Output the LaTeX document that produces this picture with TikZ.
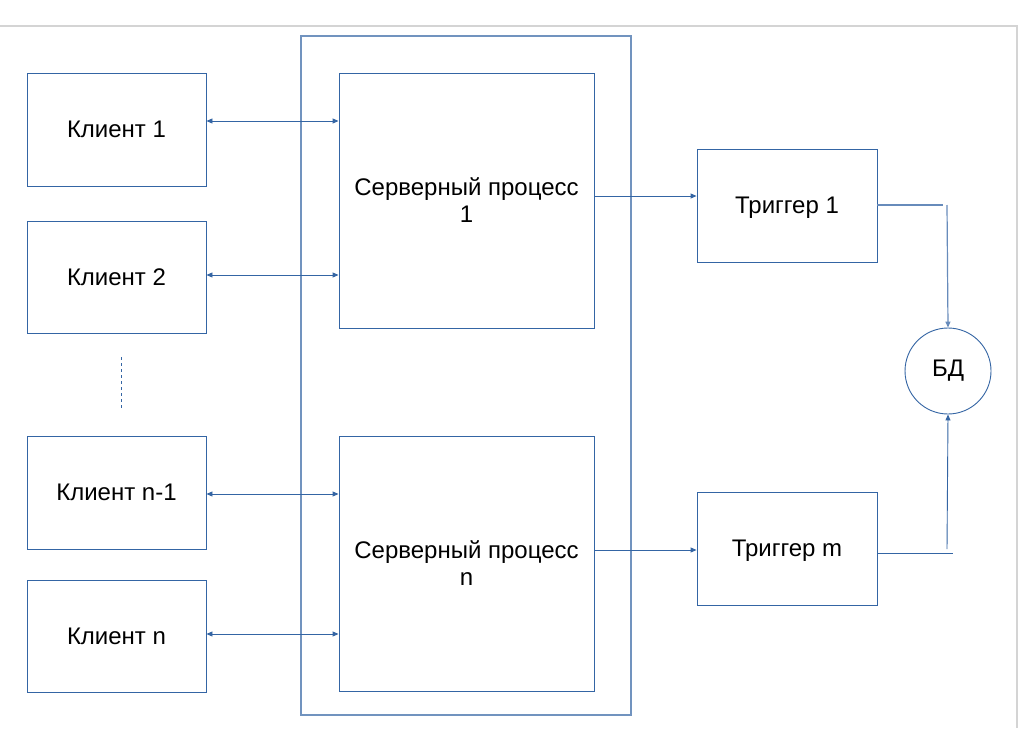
\documentclass[tikz,border=0pt]{standalone}
\usepackage{fontspec}
\setmainfont{Liberation Sans}
\usetikzlibrary{arrows.meta}
\definecolor{lnblue}{HTML}{3465A4}
\definecolor{frame}{HTML}{D4D4D4}
\begin{document}
\begin{tikzpicture}[x=1pt,y=-1pt,
  box/.style={draw=lnblue,line width=0.9pt,rectangle,inner sep=0pt,align=center,
    font=\fontsize{24}{27}\selectfont},
  conn/.style={draw=lnblue,line width=0.9pt},
  tip/.style={-{Triangle[length=6pt,width=5pt]}},
  bitip/.style={{Triangle[length=6pt,width=5pt]}-{Triangle[length=6pt,width=5pt]}}]
\useasboundingbox (0,0) rectangle (1022,728);
\fill[white] (0,0) rectangle (1022,728);
\draw[frame,line width=2pt] (0,26) -- (1017,26) -- (1017,728);
% outer container
\node[box,line width=1.4pt,draw=lnblue!70,minimum width=330pt,minimum height=679pt] (outer) at (466,375.5) {};
% clients
\node[box,minimum width=179pt,minimum height=113pt] (c1) at (116.5,129.5) {Клиент 1};
\node[box,minimum width=179pt,minimum height=112pt] (c2) at (116.5,277) {Клиент 2};
\node[box,minimum width=179pt,minimum height=113pt] (cn1) at (116.5,492.5) {Клиент n-1};
\node[box,minimum width=179pt,minimum height=112pt] (cn) at (116.5,636) {Клиент n};
% servers
\node[box,minimum width=255pt,minimum height=255pt] (s1) at (466.5,200.5) {Серверный процесс\\1};
\node[box,minimum width=255pt,minimum height=255pt] (sn) at (466.5,563.5) {Серверный процесс\\n};
% triggers
\node[box,text depth=0pt,minimum width=180pt,minimum height=113pt] (t1) at (787,205.5) {Триггер 1};
\node[box,text depth=0pt,minimum width=180pt,minimum height=113pt] (tm) at (787,548.5) {Триггер m};
% database
\node[box,circle,minimum size=86pt] (db) at (948,371) {БД};
% dashed ellipsis
\coordinate (d1) at (121,357);
\coordinate (d2) at (121,410);
\draw[conn,dashed,dash pattern=on 3pt off 3pt] (d1) -- (d2);
% client-server arrows
\draw[conn,bitip] (c1.east |- 0,121) -- (s1.west |- 0,121);
\draw[conn,bitip] (c2.east |- 0,275) -- (s1.west |- 0,275);
\draw[conn,bitip] (cn1.east |- 0,494) -- (sn.west |- 0,494);
\draw[conn,bitip] (cn.east |- 0,634) -- (sn.west |- 0,634);
% server-trigger arrows
\draw[conn,tip] (s1.east |- 0,196) -- (t1.west |- 0,196);
\draw[conn,tip] (sn.east |- 0,550) -- (tm.west |- 0,550);
% trigger-db
\coordinate (a1) at (943,205);
\coordinate (a2) at (947,205);
\draw[conn,line width=1.2pt,lnblue!75] (t1.east |- 0,205) -- (a1);
\draw[conn,line width=1.2pt,lnblue!75,tip] (a2) -- (db.north);
\coordinate (b1) at (953,553);
\coordinate (b2) at (947,549);
\draw[conn] (tm.east |- 0,553) -- (b1);
\draw[conn,tip] (b2) -- (db.south);
\end{tikzpicture}
\end{document}
